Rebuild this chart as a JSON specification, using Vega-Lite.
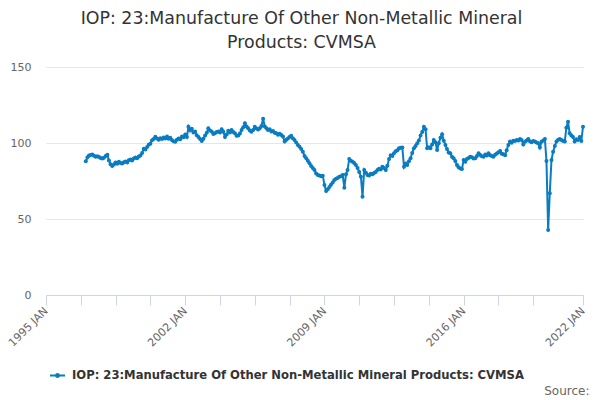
{
  "$schema": "https://vega.github.io/schema/vega-lite/v6.json",
  "width": 537,
  "height": 228,
  "autosize": {"type": "none"},
  "padding": {"left": 46, "top": 67, "right": 17, "bottom": 105},
  "background": "white",
  "title": {
    "text": ["IOP: 23:Manufacture Of Other Non-Metallic Mineral", "Products: CVMSA"],
    "font": "DejaVu Sans",
    "fontSize": 17.4,
    "fontWeight": "normal",
    "color": "#333333",
    "anchor": "middle",
    "frame": "group",
    "dx": -13,
    "offset": 10,
    "lineHeight": 24
  },
  "data": {
    "values": [
      {"date": "1997-01-01", "value": 88.0}, {"date": "1997-02-01", "value": 90.6}, {"date": "1997-03-01", "value": 91.7}, {"date": "1997-04-01", "value": 92.1},
      {"date": "1997-05-01", "value": 92.4}, {"date": "1997-06-01", "value": 91.6}, {"date": "1997-07-01", "value": 91.0}, {"date": "1997-08-01", "value": 91.3},
      {"date": "1997-09-01", "value": 90.8}, {"date": "1997-10-01", "value": 90.2}, {"date": "1997-11-01", "value": 89.8}, {"date": "1997-12-01", "value": 90.3},
      {"date": "1998-01-01", "value": 91.5}, {"date": "1998-02-01", "value": 92.2}, {"date": "1998-03-01", "value": 88.5}, {"date": "1998-04-01", "value": 86.0},
      {"date": "1998-05-01", "value": 84.8}, {"date": "1998-06-01", "value": 85.9}, {"date": "1998-07-01", "value": 87.2}, {"date": "1998-08-01", "value": 86.4},
      {"date": "1998-09-01", "value": 87.6}, {"date": "1998-10-01", "value": 86.9}, {"date": "1998-11-01", "value": 86.5}, {"date": "1998-12-01", "value": 87.3},
      {"date": "1999-01-01", "value": 87.8}, {"date": "1999-02-01", "value": 87.2}, {"date": "1999-03-01", "value": 88.6}, {"date": "1999-04-01", "value": 89.1},
      {"date": "1999-05-01", "value": 88.5}, {"date": "1999-06-01", "value": 89.8}, {"date": "1999-07-01", "value": 90.4}, {"date": "1999-08-01", "value": 89.9},
      {"date": "1999-09-01", "value": 91.2}, {"date": "1999-10-01", "value": 91.8}, {"date": "1999-11-01", "value": 93.5}, {"date": "1999-12-01", "value": 96.2},
      {"date": "2000-01-01", "value": 95.8}, {"date": "2000-02-01", "value": 97.4}, {"date": "2000-03-01", "value": 98.9}, {"date": "2000-04-01", "value": 99.5},
      {"date": "2000-05-01", "value": 101.8}, {"date": "2000-06-01", "value": 102.6}, {"date": "2000-07-01", "value": 104.1}, {"date": "2000-08-01", "value": 103.0},
      {"date": "2000-09-01", "value": 102.1}, {"date": "2000-10-01", "value": 103.2}, {"date": "2000-11-01", "value": 102.7}, {"date": "2000-12-01", "value": 103.6},
      {"date": "2001-01-01", "value": 103.0}, {"date": "2001-02-01", "value": 104.2}, {"date": "2001-03-01", "value": 102.8}, {"date": "2001-04-01", "value": 103.5},
      {"date": "2001-05-01", "value": 102.0}, {"date": "2001-06-01", "value": 101.2}, {"date": "2001-07-01", "value": 100.9}, {"date": "2001-08-01", "value": 102.1},
      {"date": "2001-09-01", "value": 103.0}, {"date": "2001-10-01", "value": 102.5}, {"date": "2001-11-01", "value": 104.3}, {"date": "2001-12-01", "value": 103.8},
      {"date": "2002-01-01", "value": 105.6}, {"date": "2002-02-01", "value": 103.9}, {"date": "2002-03-01", "value": 110.7}, {"date": "2002-04-01", "value": 108.2},
      {"date": "2002-05-01", "value": 109.3}, {"date": "2002-06-01", "value": 106.9}, {"date": "2002-07-01", "value": 107.6}, {"date": "2002-08-01", "value": 105.1},
      {"date": "2002-09-01", "value": 104.0}, {"date": "2002-10-01", "value": 102.6}, {"date": "2002-11-01", "value": 101.3}, {"date": "2002-12-01", "value": 102.8},
      {"date": "2003-01-01", "value": 105.0}, {"date": "2003-02-01", "value": 106.8}, {"date": "2003-03-01", "value": 109.7}, {"date": "2003-04-01", "value": 108.3},
      {"date": "2003-05-01", "value": 107.5}, {"date": "2003-06-01", "value": 105.9}, {"date": "2003-07-01", "value": 106.4}, {"date": "2003-08-01", "value": 107.2},
      {"date": "2003-09-01", "value": 107.5}, {"date": "2003-10-01", "value": 106.9}, {"date": "2003-11-01", "value": 109.0}, {"date": "2003-12-01", "value": 107.4},
      {"date": "2004-01-01", "value": 104.0}, {"date": "2004-02-01", "value": 105.6}, {"date": "2004-03-01", "value": 108.0}, {"date": "2004-04-01", "value": 106.9},
      {"date": "2004-05-01", "value": 108.5}, {"date": "2004-06-01", "value": 107.2}, {"date": "2004-07-01", "value": 106.4}, {"date": "2004-08-01", "value": 104.8},
      {"date": "2004-09-01", "value": 105.0}, {"date": "2004-10-01", "value": 106.3}, {"date": "2004-11-01", "value": 108.5}, {"date": "2004-12-01", "value": 110.3},
      {"date": "2005-01-01", "value": 113.0}, {"date": "2005-02-01", "value": 110.8}, {"date": "2005-03-01", "value": 109.7}, {"date": "2005-04-01", "value": 108.2},
      {"date": "2005-05-01", "value": 107.4}, {"date": "2005-06-01", "value": 108.5}, {"date": "2005-07-01", "value": 110.7}, {"date": "2005-08-01", "value": 109.6},
      {"date": "2005-09-01", "value": 108.8}, {"date": "2005-10-01", "value": 109.7}, {"date": "2005-11-01", "value": 111.2}, {"date": "2005-12-01", "value": 116.0},
      {"date": "2006-01-01", "value": 110.9}, {"date": "2006-02-01", "value": 109.7}, {"date": "2006-03-01", "value": 108.6}, {"date": "2006-04-01", "value": 109.1},
      {"date": "2006-05-01", "value": 107.5}, {"date": "2006-06-01", "value": 107.9}, {"date": "2006-07-01", "value": 106.8}, {"date": "2006-08-01", "value": 106.4},
      {"date": "2006-09-01", "value": 105.5}, {"date": "2006-10-01", "value": 106.1}, {"date": "2006-11-01", "value": 105.3}, {"date": "2006-12-01", "value": 104.2},
      {"date": "2007-01-01", "value": 101.0}, {"date": "2007-02-01", "value": 102.2}, {"date": "2007-03-01", "value": 103.0}, {"date": "2007-04-01", "value": 104.0},
      {"date": "2007-05-01", "value": 104.8}, {"date": "2007-06-01", "value": 103.1}, {"date": "2007-07-01", "value": 102.0}, {"date": "2007-08-01", "value": 100.4},
      {"date": "2007-09-01", "value": 98.7}, {"date": "2007-10-01", "value": 97.5}, {"date": "2007-11-01", "value": 96.0}, {"date": "2007-12-01", "value": 94.3},
      {"date": "2008-01-01", "value": 91.5}, {"date": "2008-02-01", "value": 90.0}, {"date": "2008-03-01", "value": 88.4}, {"date": "2008-04-01", "value": 86.6},
      {"date": "2008-05-01", "value": 84.8}, {"date": "2008-06-01", "value": 83.5}, {"date": "2008-07-01", "value": 82.2}, {"date": "2008-08-01", "value": 80.0},
      {"date": "2008-09-01", "value": 79.0}, {"date": "2008-10-01", "value": 78.6}, {"date": "2008-11-01", "value": 78.2}, {"date": "2008-12-01", "value": 78.5},
      {"date": "2009-01-01", "value": 72.4}, {"date": "2009-02-01", "value": 68.4}, {"date": "2009-03-01", "value": 69.5}, {"date": "2009-04-01", "value": 71.0},
      {"date": "2009-05-01", "value": 72.6}, {"date": "2009-06-01", "value": 74.0}, {"date": "2009-07-01", "value": 75.7}, {"date": "2009-08-01", "value": 76.4},
      {"date": "2009-09-01", "value": 77.0}, {"date": "2009-10-01", "value": 77.8}, {"date": "2009-11-01", "value": 78.2}, {"date": "2009-12-01", "value": 79.0},
      {"date": "2010-01-01", "value": 70.6}, {"date": "2010-02-01", "value": 79.5}, {"date": "2010-03-01", "value": 82.2}, {"date": "2010-04-01", "value": 89.5},
      {"date": "2010-05-01", "value": 88.4}, {"date": "2010-06-01", "value": 87.7}, {"date": "2010-07-01", "value": 86.8}, {"date": "2010-08-01", "value": 85.5},
      {"date": "2010-09-01", "value": 83.6}, {"date": "2010-10-01", "value": 81.0}, {"date": "2010-11-01", "value": 77.8}, {"date": "2010-12-01", "value": 64.7},
      {"date": "2011-01-01", "value": 82.2}, {"date": "2011-02-01", "value": 80.5}, {"date": "2011-03-01", "value": 79.0}, {"date": "2011-04-01", "value": 78.6},
      {"date": "2011-05-01", "value": 79.8}, {"date": "2011-06-01", "value": 79.4}, {"date": "2011-07-01", "value": 80.2}, {"date": "2011-08-01", "value": 81.0},
      {"date": "2011-09-01", "value": 82.3}, {"date": "2011-10-01", "value": 83.1}, {"date": "2011-11-01", "value": 82.6}, {"date": "2011-12-01", "value": 84.4},
      {"date": "2012-01-01", "value": 83.5}, {"date": "2012-02-01", "value": 82.2}, {"date": "2012-03-01", "value": 85.0}, {"date": "2012-04-01", "value": 89.4},
      {"date": "2012-05-01", "value": 92.0}, {"date": "2012-06-01", "value": 91.4}, {"date": "2012-07-01", "value": 93.2}, {"date": "2012-08-01", "value": 94.5},
      {"date": "2012-09-01", "value": 95.3}, {"date": "2012-10-01", "value": 96.5}, {"date": "2012-11-01", "value": 96.8}, {"date": "2012-12-01", "value": 97.0},
      {"date": "2013-01-01", "value": 84.4}, {"date": "2013-02-01", "value": 86.5}, {"date": "2013-03-01", "value": 85.5}, {"date": "2013-04-01", "value": 88.0},
      {"date": "2013-05-01", "value": 90.0}, {"date": "2013-06-01", "value": 93.5}, {"date": "2013-07-01", "value": 96.5}, {"date": "2013-08-01", "value": 98.0},
      {"date": "2013-09-01", "value": 99.8}, {"date": "2013-10-01", "value": 101.6}, {"date": "2013-11-01", "value": 105.0}, {"date": "2013-12-01", "value": 107.3},
      {"date": "2014-01-01", "value": 110.7}, {"date": "2014-02-01", "value": 109.0}, {"date": "2014-03-01", "value": 96.5}, {"date": "2014-04-01", "value": 97.2},
      {"date": "2014-05-01", "value": 96.5}, {"date": "2014-06-01", "value": 99.0}, {"date": "2014-07-01", "value": 102.0}, {"date": "2014-08-01", "value": 100.5},
      {"date": "2014-09-01", "value": 95.4}, {"date": "2014-10-01", "value": 99.8}, {"date": "2014-11-01", "value": 103.5}, {"date": "2014-12-01", "value": 105.7},
      {"date": "2015-01-01", "value": 101.5}, {"date": "2015-02-01", "value": 98.7}, {"date": "2015-03-01", "value": 96.0}, {"date": "2015-04-01", "value": 93.8},
      {"date": "2015-05-01", "value": 93.2}, {"date": "2015-06-01", "value": 91.0}, {"date": "2015-07-01", "value": 90.0}, {"date": "2015-08-01", "value": 88.1},
      {"date": "2015-09-01", "value": 85.5}, {"date": "2015-10-01", "value": 84.0}, {"date": "2015-11-01", "value": 83.2}, {"date": "2015-12-01", "value": 82.9},
      {"date": "2016-01-01", "value": 88.8}, {"date": "2016-02-01", "value": 87.6}, {"date": "2016-03-01", "value": 89.4}, {"date": "2016-04-01", "value": 90.2},
      {"date": "2016-05-01", "value": 91.0}, {"date": "2016-06-01", "value": 90.6}, {"date": "2016-07-01", "value": 89.8}, {"date": "2016-08-01", "value": 90.0},
      {"date": "2016-09-01", "value": 91.5}, {"date": "2016-10-01", "value": 93.2}, {"date": "2016-11-01", "value": 92.1}, {"date": "2016-12-01", "value": 91.3},
      {"date": "2017-01-01", "value": 91.0}, {"date": "2017-02-01", "value": 92.4}, {"date": "2017-03-01", "value": 91.8}, {"date": "2017-04-01", "value": 93.2},
      {"date": "2017-05-01", "value": 92.0}, {"date": "2017-06-01", "value": 91.5}, {"date": "2017-07-01", "value": 91.0}, {"date": "2017-08-01", "value": 92.3},
      {"date": "2017-09-01", "value": 93.1}, {"date": "2017-10-01", "value": 93.9}, {"date": "2017-11-01", "value": 94.7}, {"date": "2017-12-01", "value": 93.0},
      {"date": "2018-01-01", "value": 92.6}, {"date": "2018-02-01", "value": 92.0}, {"date": "2018-03-01", "value": 95.2}, {"date": "2018-04-01", "value": 98.7},
      {"date": "2018-05-01", "value": 101.0}, {"date": "2018-06-01", "value": 100.2}, {"date": "2018-07-01", "value": 101.5}, {"date": "2018-08-01", "value": 101.3},
      {"date": "2018-09-01", "value": 102.0}, {"date": "2018-10-01", "value": 101.7}, {"date": "2018-11-01", "value": 102.6}, {"date": "2018-12-01", "value": 101.9},
      {"date": "2019-01-01", "value": 99.0}, {"date": "2019-02-01", "value": 100.8}, {"date": "2019-03-01", "value": 101.6}, {"date": "2019-04-01", "value": 102.6},
      {"date": "2019-05-01", "value": 101.2}, {"date": "2019-06-01", "value": 100.5}, {"date": "2019-07-01", "value": 101.3}, {"date": "2019-08-01", "value": 101.0},
      {"date": "2019-09-01", "value": 100.4}, {"date": "2019-10-01", "value": 99.8}, {"date": "2019-11-01", "value": 97.0}, {"date": "2019-12-01", "value": 100.8},
      {"date": "2020-01-01", "value": 101.7}, {"date": "2020-02-01", "value": 102.6}, {"date": "2020-03-01", "value": 88.2}, {"date": "2020-04-01", "value": 42.8},
      {"date": "2020-05-01", "value": 67.0}, {"date": "2020-06-01", "value": 88.8}, {"date": "2020-07-01", "value": 94.3}, {"date": "2020-08-01", "value": 98.0},
      {"date": "2020-09-01", "value": 101.0}, {"date": "2020-10-01", "value": 102.1}, {"date": "2020-11-01", "value": 102.6}, {"date": "2020-12-01", "value": 101.9},
      {"date": "2021-01-01", "value": 101.3}, {"date": "2021-02-01", "value": 101.0}, {"date": "2021-03-01", "value": 110.0}, {"date": "2021-04-01", "value": 114.0},
      {"date": "2021-05-01", "value": 106.4}, {"date": "2021-06-01", "value": 105.0}, {"date": "2021-07-01", "value": 104.0}, {"date": "2021-08-01", "value": 101.0},
      {"date": "2021-09-01", "value": 102.5}, {"date": "2021-10-01", "value": 102.0}, {"date": "2021-11-01", "value": 104.0}, {"date": "2021-12-01", "value": 101.3},
      {"date": "2022-01-01", "value": 110.7}
    ]
  },
  "mark": {
    "type": "line",
    "strokeWidth": 2,
    "point": {"filled": true, "size": 16}
  },
  "encoding": {
    "x": {
      "field": "date",
      "type": "temporal",
      "title": "Source:",
      "scale": {
        "type": "utc",
        "domain": [
          {"year": 1995, "month": 1, "date": 1, "utc": true},
          {"year": 2022, "month": 1, "date": 1, "utc": true}
        ]
      },
      "axis": {
        "values": [
          {"year": 1995, "month": 1, "date": 1, "utc": true},
          {"year": 1996, "month": 10, "date": 1, "utc": true},
          {"year": 1998, "month": 7, "date": 1, "utc": true},
          {"year": 2000, "month": 4, "date": 1, "utc": true},
          {"year": 2002, "month": 1, "date": 1, "utc": true},
          {"year": 2003, "month": 10, "date": 1, "utc": true},
          {"year": 2005, "month": 7, "date": 1, "utc": true},
          {"year": 2007, "month": 4, "date": 1, "utc": true},
          {"year": 2009, "month": 1, "date": 1, "utc": true},
          {"year": 2010, "month": 10, "date": 1, "utc": true},
          {"year": 2012, "month": 7, "date": 1, "utc": true},
          {"year": 2014, "month": 4, "date": 1, "utc": true},
          {"year": 2016, "month": 1, "date": 1, "utc": true},
          {"year": 2017, "month": 10, "date": 1, "utc": true},
          {"year": 2019, "month": 7, "date": 1, "utc": true},
          {"year": 2022, "month": 1, "date": 1, "utc": true}
        ],
        "labelExpr": "utcFormat(datum.value, '%m') == '01' && indexof([1995, 2002, 2009, 2016, 2022], utcyear(datum.value)) >= 0 ? upper(utcFormat(datum.value, '%Y %b')) : ''",
        "labelAngle": -45,
        "labelAlign": "right",
        "labelBaseline": "middle",
        "labelFont": "DejaVu Sans",
        "labelFontSize": 11,
        "labelColor": "#666666",
        "labelPadding": 4,
        "labelOverlap": false,
        "labelFlush": false,
        "grid": false,
        "domainColor": "#ccd6eb",
        "tickColor": "#ccd6eb",
        "tickSize": 10,
        "titleFont": "DejaVu Sans",
        "titleFontSize": 12,
        "titleFontWeight": "normal",
        "titleColor": "#666666",
        "titleAnchor": null,
        "titleAlign": "right",
        "titleBaseline": "middle",
        "titleX": 543,
        "titleY": 95
      }
    },
    "y": {
      "field": "value",
      "type": "quantitative",
      "title": null,
      "scale": {"domain": [0, 150], "nice": false, "zero": true},
      "axis": {
        "values": [0, 50, 100, 150],
        "domain": false,
        "ticks": false,
        "gridColor": "#e6e6e6",
        "labelFont": "DejaVu Sans",
        "labelFontSize": 11,
        "labelColor": "#666666",
        "labelPadding": 15
      }
    },
    "color": {
      "datum": "IOP: 23:Manufacture Of Other Non-Metallic Mineral Products: CVMSA",
      "scale": {"range": ["#0a7cc1"]},
      "legend": {
        "title": null,
        "orient": "none",
        "legendX": 3,
        "legendY": 300,
        "padding": 0,
        "symbolType": "M-1,0L1,0M-0.2,0A0.2,0.2 0 1,0 0.2,0A0.2,0.2 0 1,0 -0.2,0",
        "symbolSize": 225,
        "symbolStrokeWidth": 2,
        "symbolFillColor": "#0a7cc1",
        "labelFont": "DejaVu Sans",
        "labelFontSize": 11.6,
        "labelFontWeight": "bold",
        "labelColor": "#333333",
        "labelLimit": 600,
        "labelOffset": 6
      }
    }
  },
  "config": {
    "view": {"stroke": null}
  }
}
